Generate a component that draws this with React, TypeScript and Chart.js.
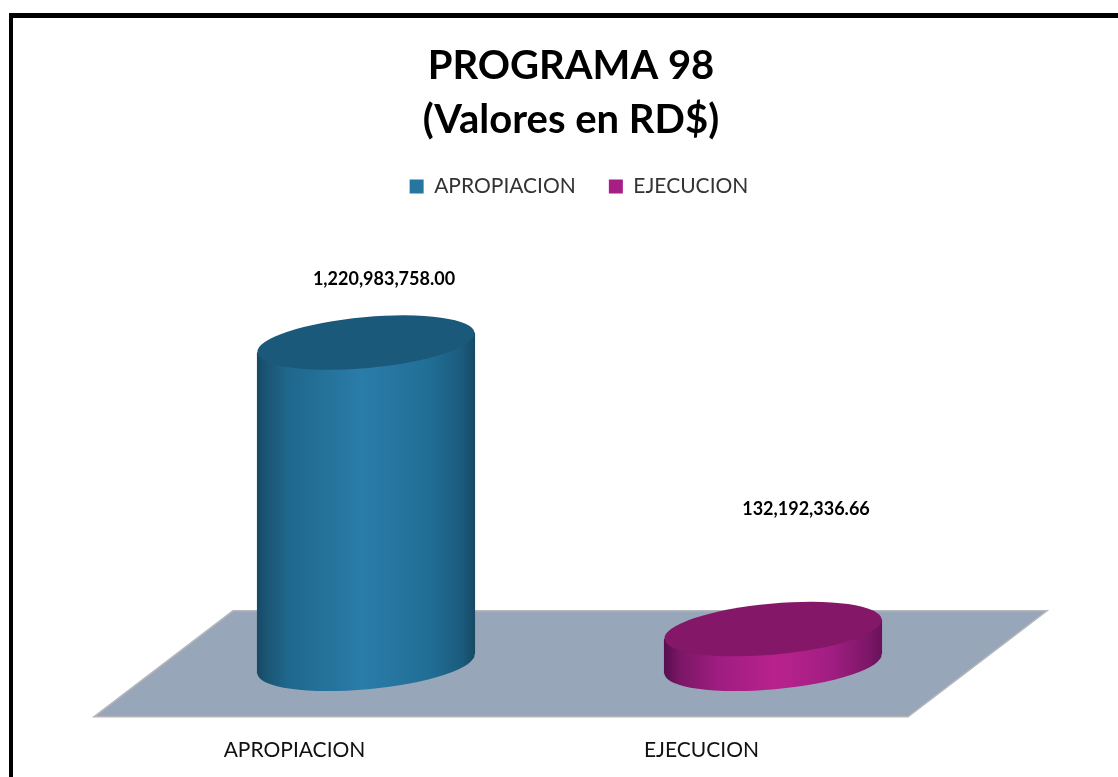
import React, { useEffect, useRef } from "react";
import { Chart, registerables } from "chart.js";

Chart.register(...registerables);

const categories = ["APROPIACION", "EJECUCION"];
const apropiacionValues = [1220983758.0, null];
const ejecucionValues = [null, 132192336.66];
const titleLines = ["PROGRAMA 98", "(Valores en RD$)"];

const DEPTH_X = 139;
const DEPTH_Y = 106;
const CENTER_NUDGE = -1;
const LEGEND_NUDGE = 8;
const TILT = (-5.2 * Math.PI) / 180;
const RY = 25.5;
const LABEL_SHIFT = [
  { dx: 18, dy: -63 },
  { dx: 33, dy: -120 },
];
const STYLES = [
  {
    top: "#1b597a",
    stops: [
      [0, "#174a66"], [0.05, "#1b5675"], [0.14, "#1f678c"], [0.48, "#2a7ca9"],
      [0.78, "#216f97"], [0.94, "#1b5b7d"], [1, "#164963"],
    ],
  },
  {
    top: "#841768",
    stops: [
      [0, "#560e4e"], [0.07, "#7a1665"], [0.25, "#9f1d80"], [0.52, "#b9228d"],
      [0.76, "#a21e82"], [0.94, "#7c1667"], [1, "#68125a"],
    ],
  },
];

const cylinderPlugin = {
  id: "cylinders",
  afterLayout(chart: any) {
    chart.legend.left += LEGEND_NUDGE;
    chart.legend.right += LEGEND_NUDGE;
  },
  beforeDatasetsDraw(chart: any) {
    const { ctx, chartArea: a } = chart;
    ctx.save();
    ctx.beginPath();
    ctx.moveTo(a.left, a.bottom);
    ctx.lineTo(a.right, a.bottom);
    ctx.lineTo(a.right + DEPTH_X, a.bottom - DEPTH_Y);
    ctx.lineTo(a.left + DEPTH_X, a.bottom - DEPTH_Y);
    ctx.closePath();
    ctx.fillStyle = "#98a6b9";
    ctx.fill();
    ctx.strokeStyle = "#b4b6ba";
    ctx.lineWidth = 1.5;
    ctx.stroke();
    ctx.restore();
  },
  beforeDatasetDraw(chart: any, args: any) {
    const { ctx } = chart;
    const style = STYLES[args.index];
    const meta = chart.getDatasetMeta(args.index);
    meta.data.forEach((bar: any, i: number) => {
      const v = chart.data.datasets[args.index].data[i];
      if (v === null) return;
      const cx = bar.x + DEPTH_X / 2 + CENTER_NUDGE;
      const rx = bar.width / 2;
      const top = bar.y - DEPTH_Y / 2;
      const bottom = bar.base - DEPTH_Y / 2;
      const slope = Math.sin(-TILT) * rx;
      const grad = ctx.createLinearGradient(cx - rx, 0, cx + rx, 0);
      style.stops.forEach(([o, c]: any) => grad.addColorStop(o, c));
      ctx.save();
      ctx.fillStyle = grad;
      ctx.beginPath();
      ctx.ellipse(cx, bottom, rx, RY, TILT, 0, Math.PI * 2);
      ctx.fill();
      ctx.beginPath();
      ctx.moveTo(cx - rx, top + slope);
      ctx.lineTo(cx + rx, top - slope);
      ctx.lineTo(cx + rx, bottom - slope);
      ctx.lineTo(cx - rx, bottom + slope);
      ctx.closePath();
      ctx.fill();
      ctx.fillStyle = style.top;
      ctx.beginPath();
      ctx.ellipse(cx, top, rx, RY, TILT, 0, Math.PI * 2);
      ctx.fill();
      ctx.restore();
    });
    return false;
  },
  afterDatasetsDraw(chart: any) {
    const { ctx } = chart;
    ctx.save();
    ctx.font = "bold 18px Lato";
    ctx.fillStyle = "#000";
    ctx.textAlign = "center";
    ctx.textBaseline = "middle";
    chart.data.datasets.forEach((ds: any, d: number) => {
      chart.getDatasetMeta(d).data.forEach((bar: any, i: number) => {
        const v = ds.data[i];
        if (v === null) return;
        const text = v.toLocaleString("en-US", {
          minimumFractionDigits: 2,
          maximumFractionDigits: 2,
        });
        ctx.fillText(
          text,
          bar.x + DEPTH_X / 2 + CENTER_NUDGE + LABEL_SHIFT[d].dx,
          bar.y - DEPTH_Y / 2 + LABEL_SHIFT[d].dy
        );
      });
    });
    ctx.restore();
  },
  afterDraw(chart: any) {
    const { ctx, width, height } = chart;
    ctx.save();
    ctx.fillStyle = "#000";
    ctx.fillRect(9, 13, 4, height - 13);
    ctx.fillRect(10, 13, width - 10, 5);
    ctx.restore();
  },
};

export default function App() {
  const ref = useRef<HTMLCanvasElement>(null);
  useEffect(() => {
    const chart = new Chart(ref.current as any, {
      type: "bar",
      data: {
        labels: categories,
        datasets: [
          { label: categories[0], data: apropiacionValues, backgroundColor: "#26769f", borderWidth: 0 },
          { label: categories[1], data: ejecucionValues, backgroundColor: "#a71e87", borderWidth: 0 },
        ],
      } as any,
      options: {
        animation: false,
        responsive: false,
        events: [],
        layout: { padding: { left: 94, right: 70, top: 39, bottom: 1 } },
        datasets: { bar: { barPercentage: 0.536, categoryPercentage: 1 } },
        plugins: {
          title: {
            display: true,
            text: titleLines,
            color: "#000",
            font: { family: "Lato", weight: "bold", size: 40, lineHeight: 54 / 40 },
            padding: { top: 0, bottom: -4 },
          },
          legend: {
            display: true,
            position: "top",
            labels: {
              font: { family: "Lato", size: 21 },
              color: "#333",
              boxWidth: 14,
              boxHeight: 14,
              padding: 33,
            },
          },
          tooltip: { enabled: false },
        },
        scales: {
          x: {
            stacked: true,
            grid: { display: false },
            border: { display: false },
            ticks: {
              color: "#111",
              font: { family: "Lato", size: 21 },
              padding: 13,
              labelOffset: -3,
              maxRotation: 0,
            },
          },
          y: {
            stacked: true,
            position: "right",
            min: 0,
            max: 1938000000,
            grid: { display: false },
            border: { display: false },
            ticks: { display: false },
            afterFit(s: any) {
              s.width = 140;
            },
          },
        },
      } as any,
      plugins: [cylinderPlugin],
    });
    return () => chart.destroy();
  }, []);
  return (
    <canvas
      ref={ref}
      width={1118}
      height={777}
      style={{ position: "absolute", left: 0, top: 0, display: "block" }}
    />
  );
}
